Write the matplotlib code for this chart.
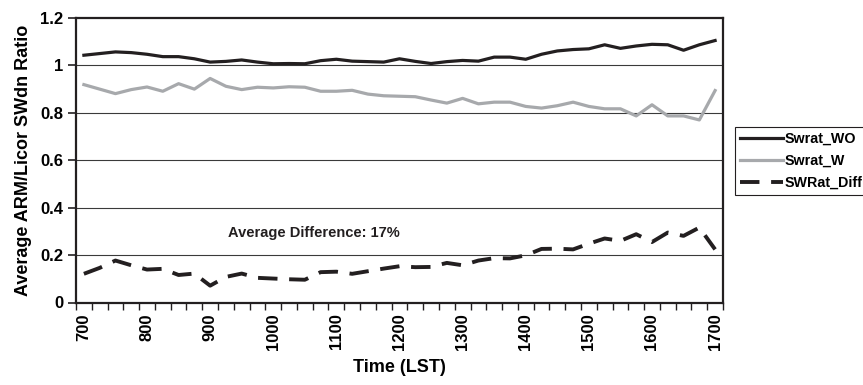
import matplotlib
matplotlib.use("Agg")
import matplotlib.pyplot as plt
from matplotlib.ticker import FixedLocator, NullFormatter

plt.rcParams['font.family'] = ['Liberation Sans', 'DejaVu Sans']
plt.rcParams['font.weight'] = 'bold'

times = [700, 715, 730, 745, 800, 815, 830, 845, 900, 915, 930, 945,
         1000, 1015, 1030, 1045, 1100, 1115, 1130, 1145, 1200, 1215, 1230, 1245,
         1300, 1315, 1330, 1345, 1400, 1415, 1430, 1445, 1500, 1515, 1530, 1545,
         1600, 1615, 1630, 1645, 1700]

swrat_wo = [1.043, 1.050, 1.057, 1.054, 1.047, 1.037, 1.037, 1.028, 1.014, 1.017,
            1.023, 1.014, 1.007, 1.008, 1.007, 1.020, 1.026, 1.018, 1.016, 1.014,
            1.028, 1.017, 1.008, 1.016, 1.021, 1.018, 1.035, 1.035, 1.026, 1.047,
            1.061, 1.067, 1.070, 1.087, 1.072, 1.082, 1.089, 1.087, 1.064, 1.087,
            1.105]

swrat_w = [0.919, 0.900, 0.881, 0.898, 0.909, 0.891, 0.923, 0.900, 0.945, 0.912,
           0.898, 0.908, 0.905, 0.910, 0.908, 0.891, 0.891, 0.895, 0.879, 0.872,
           0.870, 0.868, 0.854, 0.841, 0.861, 0.838, 0.845, 0.845, 0.827, 0.820,
           0.830, 0.845, 0.827, 0.817, 0.817, 0.787, 0.834, 0.787, 0.787, 0.770,
           0.894]

swrat_diff = [0.121, 0.146, 0.177, 0.157, 0.139, 0.142, 0.116, 0.122, 0.071, 0.108,
              0.122, 0.104, 0.101, 0.098, 0.096, 0.128, 0.130, 0.121, 0.132, 0.143,
              0.153, 0.149, 0.150, 0.167, 0.157, 0.177, 0.187, 0.186, 0.199, 0.226,
              0.227, 0.224, 0.248, 0.270, 0.260, 0.288, 0.255, 0.295, 0.281, 0.316,
              0.224]

label_times = [700, 800, 900, 1000, 1100, 1200, 1300, 1400, 1500, 1600, 1700]
y_ticks = [0, 0.2, 0.4, 0.6, 0.8, 1.0, 1.2]
y_tick_labels = ['0', '0.2', '0.4', '0.6', '0.8', '1', '1.2']
series_names = ['Swrat_WO', 'Swrat_W', 'SWRat_Diff']
annotation = 'Average Difference: 17%'

dark = '#231f20'
gray = '#a7a9ac'

fig = plt.figure(figsize=(8.63, 3.85), dpi=100)
ax = fig.add_axes([76/863, 1 - 302.5/385, (723 - 76)/863, (302.5 - 18)/385])

x = list(range(len(times)))
l1, = ax.plot(x, swrat_wo, color=dark, lw=2.3, solid_joinstyle='round')
l2, = ax.plot(x, swrat_w, color=gray, lw=2.3, solid_joinstyle='round')
l3, = ax.plot(x, swrat_diff, color=dark, lw=2.8, dashes=(5, 3),
              dash_capstyle='butt')

ax.set_xlim(-0.5, len(times) - 0.5)
ax.set_ylim(0, 1.2)

# grid lines
for yv in y_ticks[1:-1]:
    ax.axhline(yv, color='#3a3a3a', lw=0.8, zorder=0)

ax.set_yticks(y_ticks)
ax.set_yticklabels(y_tick_labels)
ax.tick_params(axis='y', direction='out', length=6, width=1.2, labelsize=12,
               pad=3, color=dark)

# x ticks: marks at category boundaries, labels at category centers
ax.xaxis.set_major_locator(FixedLocator([i - 0.5 for i in range(len(times) + 1)]))
ax.xaxis.set_major_formatter(NullFormatter())
label_pos = [times.index(t) for t in label_times]
ax.xaxis.set_minor_locator(FixedLocator(label_pos))
ax.set_xticklabels([str(t) for t in label_times], minor=True, rotation=90,
                   fontsize=12, fontweight='bold')
ax.tick_params(axis='x', which='major', direction='out', length=5, width=1.0,
               color=dark)
ax.tick_params(axis='x', which='minor', length=0, pad=8)

for sp in ax.spines.values():
    sp.set_color(dark)
    sp.set_linewidth(1.6)

ax.set_xlabel('Time (LST)', fontsize=13, fontweight='bold', labelpad=6)
ax.set_ylabel('Average ARM/Licor SWdn Ratio', fontsize=13, fontweight='bold',
              labelpad=6)

ax.text(0.368, 0.245, annotation, transform=ax.transAxes, ha='center',
        va='center', fontsize=10.5, fontweight='bold', color=dark)

leg = fig.legend([l1, l2, l3], series_names, loc='upper left',
                 bbox_to_anchor=(735/863, 1 - 127/385), frameon=True,
                 fancybox=False, edgecolor=dark, framealpha=1,
                 prop={'size': 10.3, 'weight': 'bold'}, handlelength=3.0,
                 handletextpad=0.15, borderpad=0.35, labelspacing=0.55,
                 borderaxespad=0)
leg.get_frame().set_linewidth(0.8)

fig.savefig('out.png', dpi=100)
